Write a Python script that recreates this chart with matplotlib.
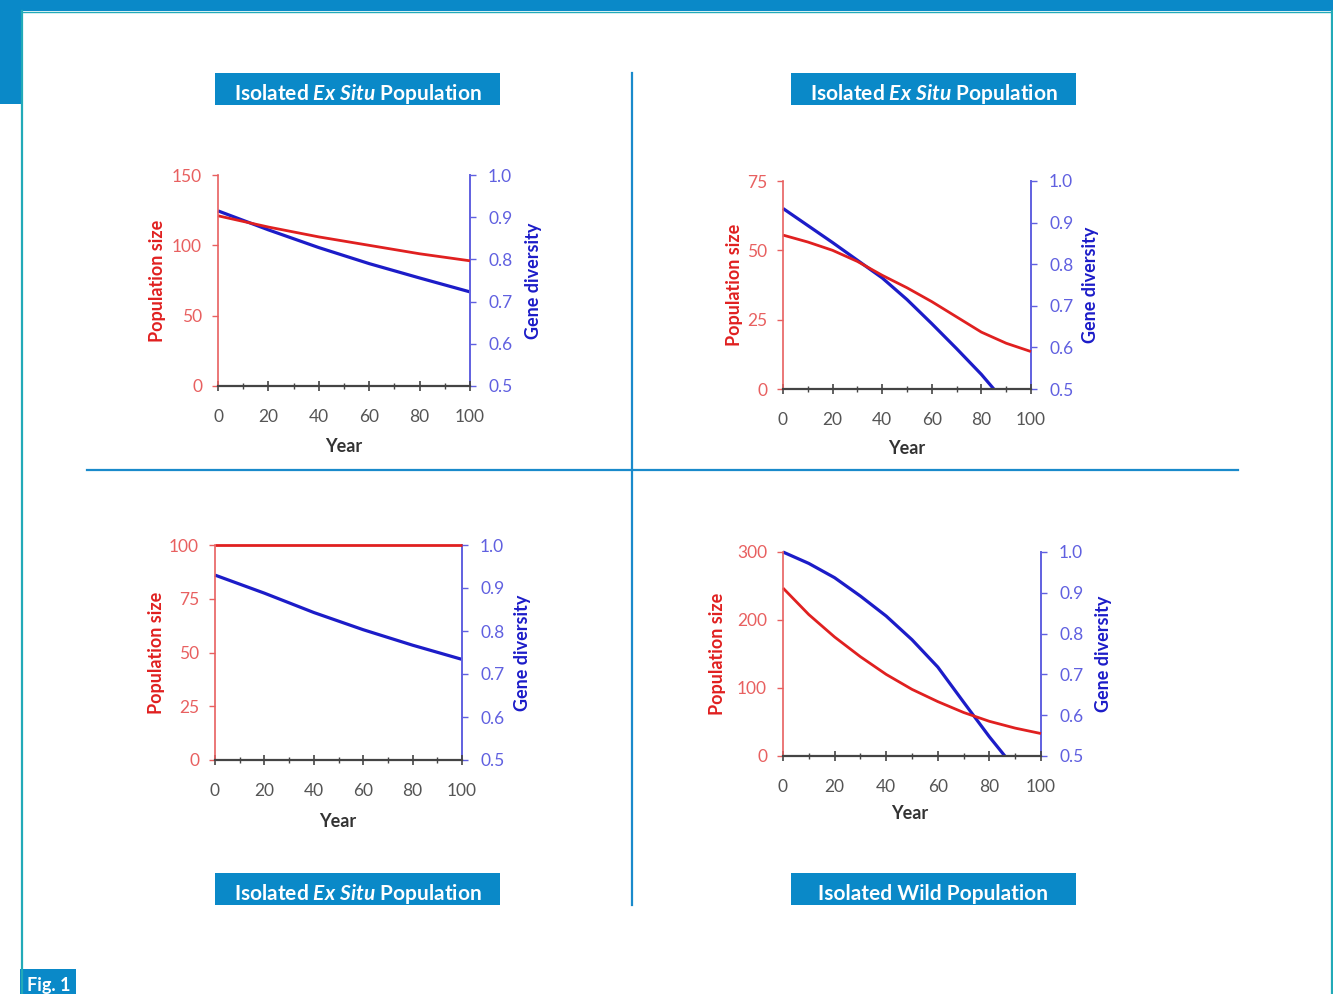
import matplotlib
matplotlib.use('Agg')
import matplotlib.pyplot as plt
from matplotlib.patches import Rectangle
from matplotlib.lines import Line2D
from matplotlib.ticker import MultipleLocator

plt.rcParams['font.family'] = ['Lato', 'DejaVu Sans']
plt.rcParams['mathtext.fontset'] = 'custom'
plt.rcParams['mathtext.rm'] = 'Lato:bold'
plt.rcParams['mathtext.it'] = 'Lato:bold:italic'

# ---- data ----
# panel 1: isolated ex situ (top left)
p1_year_pop = [0, 20, 40, 60, 80, 100]
p1_pop = [121, 113, 106, 100, 94, 89]
p1_year_gd = [0, 20, 40, 60, 80, 100]
p1_gd = [0.915, 0.870, 0.828, 0.790, 0.756, 0.723]

# panel 2: isolated ex situ (top right)
p2_year_pop = [0, 10, 20, 30, 40, 50, 60, 70, 80, 90, 100]
p2_pop = [55.5, 53, 50, 46, 41, 36.5, 31.5, 26, 20.5, 16.5, 13.5]
p2_year_gd = [0, 20, 40, 50, 60, 70, 80, 85]
p2_gd = [0.934, 0.852, 0.767, 0.715, 0.657, 0.597, 0.535, 0.5]

# panel 3: isolated ex situ (bottom left)
p3_year_pop = [0, 100]
p3_pop = [100, 100]
p3_year_gd = [0, 20, 40, 60, 80, 100]
p3_gd = [0.930, 0.888, 0.843, 0.803, 0.767, 0.734]

# panel 4: isolated wild (bottom right)
p4_year_pop = [0, 10, 20, 30, 40, 50, 60, 70, 80, 90, 100]
p4_pop = [247, 208, 175, 146, 120, 98, 80, 64, 51, 41, 33]
p4_year_gd = [0, 10, 20, 30, 40, 50, 60, 70, 80, 86]
p4_gd = [1.0, 0.972, 0.937, 0.892, 0.843, 0.785, 0.718, 0.632, 0.547, 0.5]

pop_ticks = {1: [0, 50, 100, 150], 2: [0, 25, 50, 75], 3: [0, 25, 50, 75, 100], 4: [0, 100, 200, 300]}
gd_ticks = [0.5, 0.6, 0.7, 0.8, 0.9, 1.0]
year_ticks = [0, 20, 40, 60, 80, 100]

titles_top = [r'Isolated $\it{Ex\ Situ}$ Population', r'Isolated $\it{Ex\ Situ}$ Population']
titles_bottom = [r'Isolated $\it{Ex\ Situ}$ Population', 'Isolated Wild Population']

W, H = 1333, 994
BLUE_FRAME = '#0a89c8'
TEAL = '#22aab8'
RED = '#e02020'
BLUE = '#1c1cc8'
RED_LIGHT = '#e86060'
BLUE_LIGHT = '#6060e0'

fig = plt.figure(figsize=(W / 100, H / 100), dpi=100)
fig.patch.set_facecolor('white')


def fx(x):
    return x / W


def fy(y):
    return 1 - y / H


def frect(x0, y0, x1, y1, color):
    fig.add_artist(Rectangle((fx(x0), fy(y1)), fx(x1) - fx(x0), fy(y0) - fy(y1),
                             transform=fig.transFigure, facecolor=color,
                             edgecolor='none', zorder=0))


# page frame
frect(0, 0, W, 11, BLUE_FRAME)
frect(0, 0, 21, 104, BLUE_FRAME)
fig.add_artist(Line2D([fx(22), fx(22)], [fy(11), 0], transform=fig.transFigure, color=TEAL, lw=1.6))
fig.add_artist(Line2D([fx(21), fx(W)], [fy(11.5), fy(11.5)], transform=fig.transFigure, color=TEAL, lw=1.0))
fig.add_artist(Line2D([fx(1331.5), fx(1331.5)], [fy(11), 0], transform=fig.transFigure, color=TEAL, lw=1.6))

# dividers
fig.add_artist(Line2D([fx(632), fx(632)], [fy(73), fy(905)], transform=fig.transFigure, color='#1a8acb', lw=1.6))
fig.add_artist(Line2D([fx(87), fx(1238)], [fy(470), fy(470)], transform=fig.transFigure, color='#1a8acb', lw=1.6))

# title boxes
for (x0, x1), t in zip([(215, 500), (791, 1076)], titles_top):
    frect(x0, 73, x1, 105, BLUE_FRAME)
    fig.text(fx((x0 + x1) / 2), fy(93.5), t, color='white', fontsize=15, fontweight='bold',
             ha='center', va='center')
for (x0, x1), t in zip([(215, 500), (791, 1076)], titles_bottom):
    frect(x0, 873, x1, 905, BLUE_FRAME)
    fig.text(fx((x0 + x1) / 2), fy(893.5), t, color='white', fontsize=15, fontweight='bold',
             ha='center', va='center')

# Fig. 1 tag
frect(20, 969, 76, H, BLUE_FRAME)
fig.text(fx(27), fy(986), 'Fig. 1', color='white', fontsize=13, fontweight='bold',
         ha='left', va='center')


def panel(box, years_pop, pop, years_gd, gd, pticks, xl, lab_pop, lab_gd, lab_year):
    left, top, right, bottom = box
    ax = fig.add_axes([fx(left), fy(bottom), fx(right) - fx(left), fy(top) - fy(bottom)])
    ax2 = ax.twinx()
    ax.set_zorder(ax2.get_zorder() + 1)
    ax.patch.set_visible(False)

    ax2.plot(years_gd, gd, color=BLUE, lw=2.3, solid_capstyle='butt', clip_on=False)
    ax.plot(years_pop, pop, color=RED, lw=2.0, solid_capstyle='butt', clip_on=False)

    ax.set_xlim(0, 100)
    ax.set_ylim(0, pticks[-1])
    ax2.set_ylim(0.5, 1.0)
    ax.set_xticks(year_ticks)
    ax.xaxis.set_minor_locator(MultipleLocator(10))
    ax.set_yticks(pticks)
    ax2.set_yticks(gd_ticks)
    ax2.set_yticklabels([f'{v:.1f}' for v in gd_ticks])

    for a in (ax, ax2):
        a.spines['top'].set_visible(False)
    ax.spines['right'].set_visible(False)
    ax2.spines['left'].set_visible(False)
    ax2.spines['bottom'].set_visible(False)
    ax.spines['left'].set_color(RED_LIGHT)
    ax.spines['left'].set_linewidth(1.2)
    ax2.spines['right'].set_color(BLUE_LIGHT)
    ax2.spines['right'].set_linewidth(1.4)
    ax.spines['bottom'].set_color('#444444')
    ax.spines['bottom'].set_linewidth(1.6)

    ax.tick_params(axis='y', colors=RED_LIGHT, labelsize=12.5, length=4, width=1, pad=7.5)
    ax2.tick_params(axis='y', colors=BLUE_LIGHT, labelsize=12.5, length=4, width=1, pad=9)
    ax.tick_params(axis='x', which='major', direction='inout', length=7, width=1.2,
                   color='#444444', labelcolor='#555555', labelsize=12.5, pad=13)
    ax.tick_params(axis='x', which='minor', direction='inout', length=4, width=1, color='#444444')

    ax.set_ylabel('Population size', color=RED, fontsize=13, fontweight='bold')
    ax.yaxis.set_label_coords(lab_pop, 0.5)
    ax2.set_ylabel('Gene diversity', color=BLUE, fontsize=13, fontweight='bold', rotation=90)
    ax2.yaxis.set_label_coords(lab_gd, 0.5)
    ax.set_xlabel('Year', color='#333333', fontsize=13, fontweight='bold')
    ax.xaxis.set_label_coords(xl, lab_year)
    for lbl in (ax.yaxis.label, ax2.yaxis.label, ax.xaxis.label):
        lbl.set_va('center')
        lbl.set_ha('center')
        lbl.set_rotation_mode('anchor')
    return ax, ax2


panel((218, 175, 470, 386), p1_year_pop, p1_pop, p1_year_gd, p1_gd, pop_ticks[1], 0.5, -0.242, 1.25, -0.289)
panel((783, 181, 1031, 389), p2_year_pop, p2_pop, p2_year_gd, p2_gd, pop_ticks[2], 0.5, -0.194, 1.238, -0.288)
panel((215, 545, 462, 760), p3_year_pop, p3_pop, p3_year_gd, p3_gd, pop_ticks[3], 0.498, -0.235, 1.243, -0.284)
panel((783, 552, 1041, 756), p4_year_pop, p4_pop, p4_year_gd, p4_gd, pop_ticks[4], 0.492, -0.252, 1.244, -0.284)

fig.savefig('out.png', dpi=100, facecolor='white')
